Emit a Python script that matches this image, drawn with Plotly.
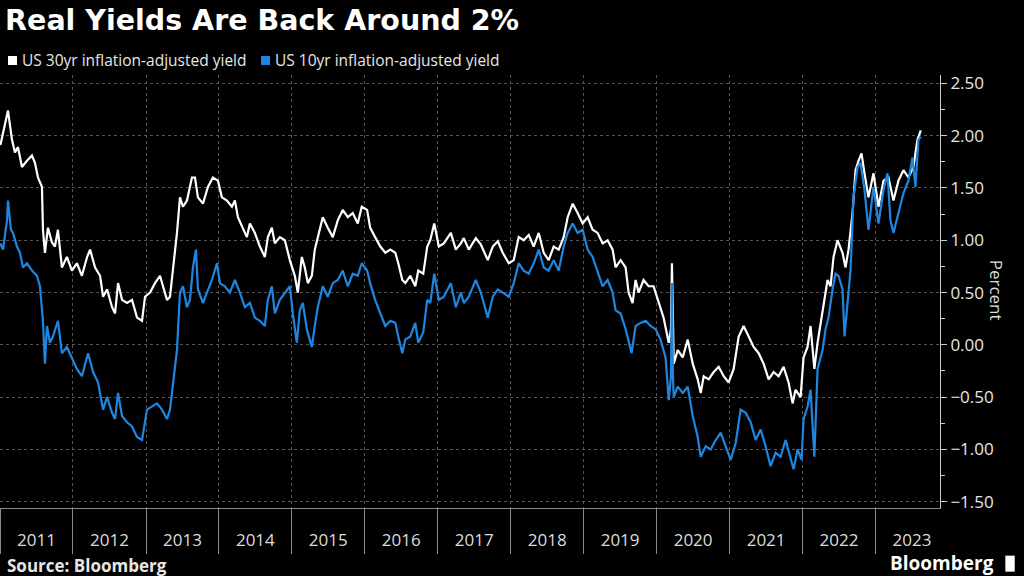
import plotly.graph_objects as go

# US 30yr inflation-adjusted yield (percent)
dates_30y = [
    "2011-01-03", "2011-01-16", "2011-02-10", "2011-03-02", "2011-03-17", "2011-04-01", "2011-04-21",
    "2011-05-16", "2011-06-10", "2011-06-25", "2011-07-10", "2011-07-30", "2011-08-04", "2011-08-14",
    "2011-08-29", "2011-09-18", "2011-10-03", "2011-10-18", "2011-11-07", "2011-12-02", "2011-12-27",
    "2012-01-21", "2012-02-15", "2012-03-12", "2012-03-27", "2012-04-21", "2012-05-16", "2012-05-31",
    "2012-06-20", "2012-07-15", "2012-07-30", "2012-08-14", "2012-09-03", "2012-09-28", "2012-10-23",
    "2012-11-17", "2012-12-12", "2012-12-27", "2013-01-21", "2013-02-15", "2013-03-12", "2013-03-27",
    "2013-04-16", "2013-05-01", "2013-05-16", "2013-06-05", "2013-06-20", "2013-07-05", "2013-07-25",
    "2013-08-19", "2013-09-03", "2013-09-18", "2013-10-13", "2013-11-07", "2013-12-02", "2013-12-27",
    "2014-01-16", "2014-02-10", "2014-03-07", "2014-03-22", "2014-04-06", "2014-05-01", "2014-05-21",
    "2014-06-05", "2014-06-30", "2014-07-25", "2014-08-19", "2014-09-03", "2014-09-23", "2014-10-08",
    "2014-11-02", "2014-11-27", "2014-12-22", "2015-01-16", "2015-01-31", "2015-02-20", "2015-03-07",
    "2015-03-22", "2015-04-11", "2015-04-26", "2015-05-11", "2015-06-05", "2015-06-30", "2015-07-25",
    "2015-08-19", "2015-09-13", "2015-10-08", "2015-11-02", "2015-11-27", "2015-12-17", "2016-01-13",
    "2016-01-28", "2016-02-22", "2016-03-19", "2016-04-13", "2016-05-08", "2016-06-02", "2016-06-17",
    "2016-07-07", "2016-07-22", "2016-08-16", "2016-09-10", "2016-09-25", "2016-10-20", "2016-11-09",
    "2016-11-24", "2016-12-14", "2017-01-06", "2017-01-31", "2017-03-07", "2017-04-01", "2017-04-26",
    "2017-05-11", "2017-06-05", "2017-07-10", "2017-08-04", "2017-09-08", "2017-10-03", "2017-10-28",
    "2017-11-22", "2017-12-22", "2018-01-16", "2018-02-10", "2018-03-07", "2018-04-01", "2018-04-26",
    "2018-05-21", "2018-06-15", "2018-07-10", "2018-08-04", "2018-08-29", "2018-09-23", "2018-10-13",
    "2018-11-07", "2018-12-02", "2018-12-27", "2019-01-21", "2019-02-15", "2019-03-12", "2019-04-06",
    "2019-05-01", "2019-05-26", "2019-06-10", "2019-07-05", "2019-07-30", "2019-08-14", "2019-09-03",
    "2019-09-18", "2019-10-03", "2019-10-28", "2019-11-22", "2019-12-17", "2020-01-11", "2020-02-05",
    "2020-03-02", "2020-03-13", "2020-03-18", "2020-03-23", "2020-03-27", "2020-04-16", "2020-05-11",
    "2020-06-05", "2020-06-30", "2020-07-25", "2020-08-09", "2020-08-24", "2020-09-18", "2020-10-13",
    "2020-11-07", "2020-12-02", "2020-12-27", "2021-01-21", "2021-02-15", "2021-03-12", "2021-04-06",
    "2021-05-01", "2021-05-26", "2021-06-20", "2021-07-15", "2021-08-09", "2021-09-03", "2021-09-28",
    "2021-10-23", "2021-11-12", "2021-11-27", "2021-12-22", "2022-01-06", "2022-01-26", "2022-02-10",
    "2022-03-01", "2022-03-17", "2022-04-01", "2022-04-16", "2022-05-06", "2022-05-21", "2022-06-05",
    "2022-06-25", "2022-07-20", "2022-08-04", "2022-08-19", "2022-09-08", "2022-09-23", "2022-10-08",
    "2022-10-23", "2022-11-07", "2022-11-27", "2022-12-22", "2023-01-16", "2023-02-10", "2023-03-07",
    "2023-04-01", "2023-04-26", "2023-05-21", "2023-06-15", "2023-07-10", "2023-07-30", "2023-08-16",
]
yield_30y = [
    1.91, 2.02, 2.24, 1.96, 1.84, 1.89, 1.70,
    1.76, 1.81, 1.74, 1.60, 1.51, 1.10, 0.88,
    1.12, 0.98, 0.94, 1.10, 0.74, 0.84, 0.71,
    0.78, 0.66, 0.84, 0.91, 0.74, 0.66, 0.46,
    0.53, 0.36, 0.30, 0.59, 0.43, 0.40, 0.43,
    0.26, 0.23, 0.46, 0.50, 0.59, 0.66, 0.56,
    0.43, 0.46, 0.71, 1.07, 1.41, 1.32, 1.38,
    1.60, 1.60, 1.41, 1.35, 1.51, 1.60, 1.57,
    1.41, 1.38, 1.32, 1.38, 1.22, 1.12, 1.03,
    1.16, 1.07, 0.94, 0.84, 1.03, 1.12, 0.97,
    1.03, 1.00, 0.81, 0.66, 0.50, 0.84, 0.74,
    0.59, 0.66, 0.91, 1.03, 1.22, 1.12, 1.03,
    1.19, 1.29, 1.22, 1.26, 1.16, 1.32, 1.29,
    1.12, 1.03, 0.94, 0.88, 0.91, 0.88, 0.78,
    0.62, 0.59, 0.66, 0.56, 0.71, 0.68, 0.94,
    1.00, 1.16, 0.94, 0.97, 1.07, 0.91, 0.97,
    1.02, 0.91, 1.02, 0.96, 0.81, 0.94, 0.99,
    0.88, 0.78, 0.81, 1.03, 1.00, 1.05, 0.94,
    1.07, 0.88, 0.81, 0.94, 0.91, 1.03, 1.22,
    1.35, 1.26, 1.16, 1.22, 1.10, 1.07, 0.97,
    1.00, 0.91, 0.74, 0.81, 0.74, 0.50, 0.40,
    0.62, 0.50, 0.62, 0.56, 0.56, 0.41, 0.26,
    0.02, 0.15, 0.78, -0.05, -0.18, -0.05, -0.12,
    0.05, -0.18, -0.33, -0.46, -0.30, -0.33, -0.26,
    -0.21, -0.30, -0.36, -0.23, 0.08, 0.18, 0.08,
    -0.02, -0.08, -0.18, -0.33, -0.26, -0.30, -0.21,
    -0.36, -0.56, -0.43, -0.50, -0.12, -0.02, 0.18,
    -0.23, 0.02, 0.21, 0.40, 0.62, 0.56, 0.84,
    1.00, 0.88, 0.74, 0.91, 1.26, 1.67, 1.76,
    1.83, 1.64, 1.41, 1.64, 1.32, 1.57, 1.60,
    1.38, 1.57, 1.67, 1.60, 1.70, 1.96, 2.05,
]

# US 10yr inflation-adjusted yield (percent)
dates_10y = [
    "2011-01-03", "2011-01-16", "2011-02-05", "2011-02-10", "2011-02-25", "2011-03-07", "2011-03-27",
    "2011-04-11", "2011-04-26", "2011-05-16", "2011-06-10", "2011-07-05", "2011-07-20", "2011-08-04",
    "2011-08-14", "2011-08-24", "2011-09-08", "2011-09-23", "2011-10-18", "2011-11-07", "2011-12-02",
    "2011-12-27", "2012-01-21", "2012-02-15", "2012-03-17", "2012-04-11", "2012-05-06", "2012-05-31",
    "2012-06-20", "2012-07-15", "2012-07-30", "2012-08-14", "2012-09-03", "2012-09-28", "2012-10-23",
    "2012-11-17", "2012-12-12", "2013-01-06", "2013-01-31", "2013-02-25", "2013-03-22", "2013-04-16",
    "2013-05-01", "2013-05-16", "2013-06-05", "2013-06-20", "2013-07-05", "2013-07-25", "2013-08-09",
    "2013-08-24", "2013-09-08", "2013-09-18", "2013-10-13", "2013-11-02", "2013-11-27", "2013-12-22",
    "2014-01-06", "2014-01-31", "2014-02-25", "2014-03-22", "2014-04-16", "2014-05-11", "2014-06-05",
    "2014-06-30", "2014-07-25", "2014-08-19", "2014-09-03", "2014-09-23", "2014-10-08", "2014-11-02",
    "2014-11-27", "2014-12-22", "2015-01-06", "2015-01-26", "2015-02-10", "2015-02-25", "2015-03-17",
    "2015-04-11", "2015-04-26", "2015-05-11", "2015-06-05", "2015-06-30", "2015-07-25", "2015-08-19",
    "2015-09-13", "2015-10-08", "2015-11-02", "2015-11-27", "2015-12-17", "2016-01-13", "2016-01-28",
    "2016-02-22", "2016-03-19", "2016-04-13", "2016-05-08", "2016-06-02", "2016-06-17", "2016-07-07",
    "2016-07-22", "2016-08-16", "2016-09-10", "2016-09-25", "2016-10-20", "2016-11-09", "2016-11-24",
    "2016-12-14", "2017-01-06", "2017-01-31", "2017-03-07", "2017-04-01", "2017-04-26", "2017-05-11",
    "2017-06-05", "2017-07-10", "2017-08-04", "2017-09-08", "2017-10-03", "2017-10-28", "2017-11-22",
    "2017-12-22", "2018-01-16", "2018-02-10", "2018-03-07", "2018-04-01", "2018-04-26", "2018-05-21",
    "2018-06-15", "2018-07-10", "2018-08-04", "2018-08-29", "2018-09-23", "2018-10-13", "2018-11-07",
    "2018-12-02", "2018-12-27", "2019-01-21", "2019-02-15", "2019-03-12", "2019-04-06", "2019-05-01",
    "2019-05-26", "2019-06-10", "2019-07-05", "2019-07-30", "2019-08-14", "2019-08-29", "2019-09-18",
    "2019-10-13", "2019-11-07", "2019-12-02", "2019-12-27", "2020-01-21", "2020-02-15", "2020-03-02",
    "2020-03-13", "2020-03-18", "2020-03-23", "2020-03-27", "2020-04-16", "2020-05-11", "2020-06-05",
    "2020-06-30", "2020-07-25", "2020-08-09", "2020-09-03", "2020-09-28", "2020-10-23", "2020-11-17",
    "2020-12-12", "2021-01-06", "2021-01-31", "2021-02-25", "2021-03-22", "2021-04-16", "2021-05-11",
    "2021-06-05", "2021-06-30", "2021-07-25", "2021-08-19", "2021-09-13", "2021-10-08", "2021-11-02",
    "2021-11-17", "2021-12-07", "2021-12-27", "2022-01-06", "2022-01-26", "2022-02-10", "2022-03-01",
    "2022-03-17", "2022-04-11", "2022-04-26", "2022-05-11", "2022-05-31", "2022-06-15", "2022-06-30",
    "2022-07-20", "2022-07-30", "2022-08-14", "2022-08-29", "2022-09-13", "2022-10-03", "2022-10-18",
    "2022-11-07", "2022-11-27", "2022-12-22", "2023-01-16", "2023-02-10", "2023-03-02", "2023-03-17",
    "2023-04-01", "2023-04-26", "2023-05-21", "2023-06-15", "2023-07-05", "2023-07-20", "2023-08-04",
    "2023-08-16",
]
yield_10y = [
    0.97, 0.91, 1.19, 1.38, 1.10, 1.07, 0.94,
    0.88, 0.74, 0.78, 0.71, 0.66, 0.56, 0.23,
    -0.18, 0.18, 0.02, 0.08, 0.23, -0.08, -0.02,
    -0.12, -0.23, -0.30, -0.08, -0.26, -0.36, -0.62,
    -0.50, -0.65, -0.71, -0.46, -0.68, -0.74, -0.78,
    -0.88, -0.91, -0.62, -0.59, -0.56, -0.62, -0.71,
    -0.62, -0.36, -0.05, 0.50, 0.56, 0.36, 0.43,
    0.74, 0.91, 0.53, 0.40, 0.50, 0.62, 0.78,
    0.59, 0.56, 0.50, 0.62, 0.50, 0.36, 0.40,
    0.26, 0.23, 0.18, 0.43, 0.56, 0.30, 0.43,
    0.50, 0.56, 0.30, 0.02, 0.33, 0.40, 0.15,
    -0.02, 0.18, 0.36, 0.56, 0.46, 0.59, 0.62,
    0.71, 0.56, 0.68, 0.66, 0.78, 0.71, 0.59,
    0.43, 0.30, 0.18, 0.23, 0.21, 0.08, -0.08,
    0.05, 0.08, 0.21, 0.02, 0.12, 0.43, 0.40,
    0.68, 0.43, 0.46, 0.59, 0.36, 0.50, 0.40,
    0.46, 0.62, 0.50, 0.26, 0.46, 0.53, 0.50,
    0.46, 0.59, 0.78, 0.71, 0.68, 0.78, 0.91,
    0.74, 0.71, 0.81, 0.71, 0.94, 1.07, 1.16,
    1.07, 1.10, 0.91, 0.84, 0.71, 0.56, 0.62,
    0.50, 0.33, 0.30, 0.15, 0.02, -0.08, 0.18,
    0.21, 0.23, 0.18, 0.15, 0.05, -0.12, -0.53,
    -0.30, 0.59, -0.30, -0.50, -0.40, -0.46, -0.40,
    -0.68, -0.88, -1.07, -0.97, -1.00, -0.91, -0.84,
    -0.97, -1.10, -0.94, -0.62, -0.65, -0.74, -0.91,
    -0.81, -0.97, -1.16, -1.03, -1.07, -0.91, -1.10,
    -1.19, -1.00, -1.10, -0.71, -0.59, -0.43, -1.07,
    -0.23, -0.05, 0.15, 0.26, 0.53, 0.68, 0.66,
    0.53, 0.08, 0.40, 0.71, 1.41, 1.70, 1.74,
    1.48, 1.10, 1.51, 1.16, 1.48, 1.64, 1.19,
    1.07, 1.26, 1.45, 1.57, 1.79, 1.51, 1.96,
    1.99,
]

series_names = ["US 30yr inflation-adjusted yield", "US 10yr inflation-adjusted yield"]
series_colors = ["#ffffff", "#1f86e0"]

fig = go.Figure()

fig.add_trace(go.Scatter(x=dates_30y, y=yield_30y, mode="lines", name=series_names[0],
                         line=dict(color=series_colors[0], width=2.2)))
fig.add_trace(go.Scatter(x=dates_10y, y=yield_10y, mode="lines", name=series_names[1],
                         line=dict(color=series_colors[1], width=2.2)))

fig.update_layout(
    width=1024,
    height=576,
    paper_bgcolor="black",
    plot_bgcolor="black",
    showlegend=False,
    margin=dict(l=0, r=84, t=75, b=68),
    font=dict(family="Open Sans", color="#dcdcdc"),
    title=dict(text="<b>Real Yields Are Back Around 2%</b>", x=0.005, xanchor="left",
               y=0.965, yanchor="middle", xref="container",
               font=dict(size=28.5, color="white", family="DejaVu Sans")),
)

fig.update_xaxes(
    type="date",
    range=["2011-01-01", "2023-11-20"],
    tick0="2011-01-01",
    dtick="M12",
    tickformat="%Y",
    ticklabelmode="period",
    ticks="outside",
    ticklen=45,
    tickwidth=1,
    tickcolor="#8a8a8a",
    ticklabelstandoff=-28,
    tickfont=dict(size=17, color="#dcdcdc"),
    showgrid=True,
    gridcolor="#555555",
    griddash="dot",
    showline=True,
    linecolor="#8a8a8a",
    zeroline=False,
)

fig.update_yaxes(
    side="right",
    range=[-1.56, 2.58],
    tick0=0,
    dtick=0.5,
    tickformat=".2f",
    ticks="outside",
    ticklen=6,
    tickcolor="#cccccc",
    tickfont=dict(size=17, color="#e6e6e6"),
    showgrid=True,
    gridcolor="#555555",
    griddash="dot",
    showline=True,
    linecolor="#cccccc",
    zeroline=False,
    minor=dict(dtick=0.25, ticks="outside", ticklen=4, tickcolor="#cccccc", showgrid=False),
)

# legend drawn as coloured squares followed by the series names
for name, color, sq_x, txt_x in zip(series_names, series_colors, [0.0085, 0.2777], [0.0213, 0.2904]):
    fig.add_shape(type="rect", xref="paper", yref="paper", x0=sq_x, x1=sq_x + 0.0096,
                  y0=1.0231, y1=1.0439, fillcolor=color, line=dict(width=0))
    fig.add_annotation(text=name, x=txt_x, y=1.035, xref="paper", yref="paper",
                       xanchor="left", yanchor="middle", showarrow=False,
                       font=dict(size=15.5, color="#e6e6e6"))

# axis title reads top to bottom
fig.add_annotation(text="Percent", x=1.0745, y=0.503, xref="paper", yref="paper",
                   textangle=90, showarrow=False, font=dict(size=17, color="#dcdcdc"))

fig.add_annotation(text="<b>Source: Bloomberg</b>", x=0.005, y=-0.132, xref="paper", yref="paper",
                   xanchor="left", yanchor="middle", showarrow=False,
                   font=dict(size=17, color="#e6e6e6"))
fig.add_annotation(text="<b>Bloomberg</b>", x=1.06, y=-0.128, xref="paper", yref="paper",
                   xanchor="right", yanchor="middle", showarrow=False,
                   font=dict(size=19, color="white"))

# small logo mark next to the wordmark
fig.add_shape(type="rect", xref="paper", yref="paper", x0=1.0695, x1=1.0795, y0=-0.147, y1=-0.110,
              fillcolor="white", line=dict(width=0))

# drop the browser's default page margin so the figure sits at the window corner
fig.write_html("out.html", config={"displayModeBar": False},
               post_script="document.body.style.margin='0';")
